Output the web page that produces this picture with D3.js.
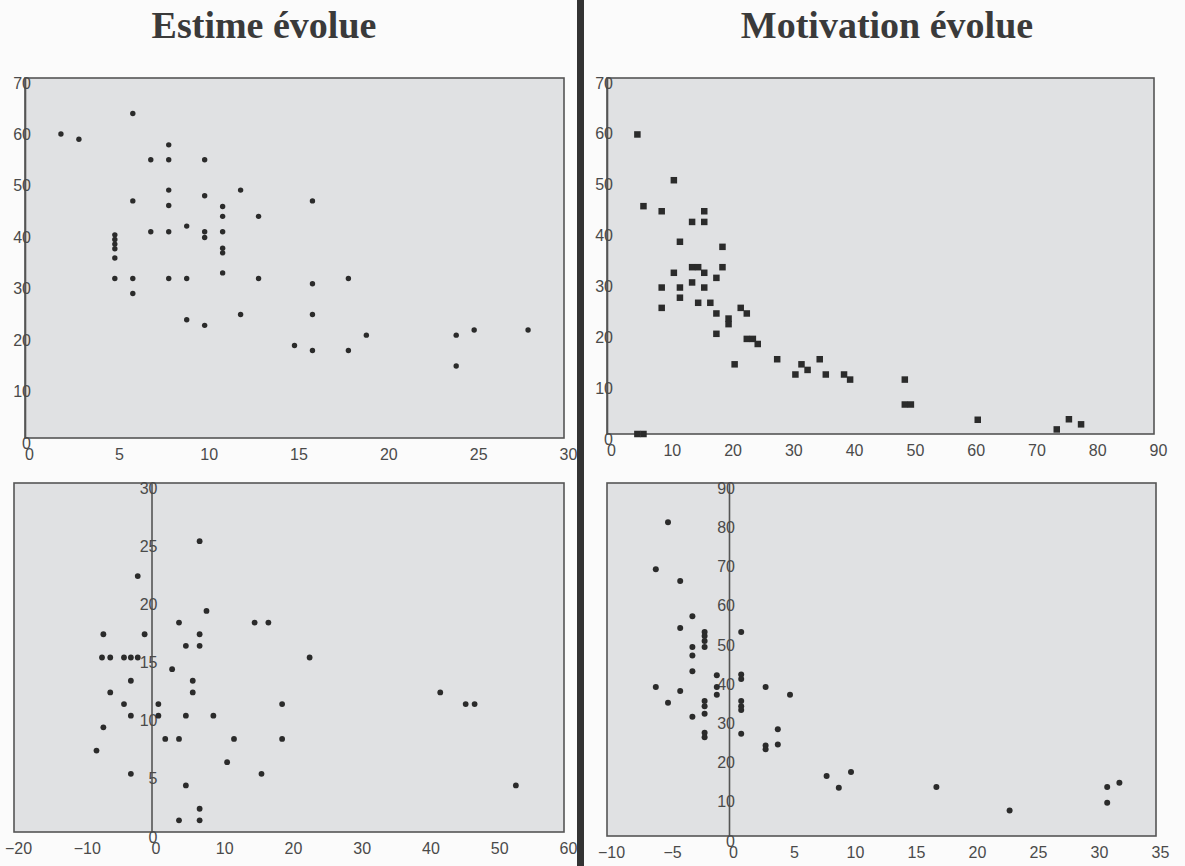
<!DOCTYPE html>
<html>
<head>
<meta charset="utf-8">
<script src="https://cdn.jsdelivr.net/npm/d3@7"></script>
<style>
    body { margin: 0; background: #fbfbfb; }
</style>
</head>
<body>
<div id="chart"></div>
<script>
// Titles
let titles = ['Estime évolue', 'Motivation évolue'];

// Estime - top scatter
let estimeTopX = [2, 3, 6, 7, 8, 8, 10, 8, 8, 10, 12, 6, 11, 11, 13, 7, 8, 9, 10, 10, 11, 11, 11,
    5, 5, 5, 5, 5, 5, 6, 8, 9, 13, 11, 6, 9, 10, 12, 15,
    16, 16, 18, 16, 19, 16, 18, 24, 25, 28, 24];
let estimeTopY = [59.1, 58.1, 63.1, 54.1, 54.1, 57.0, 54.1, 48.2, 45.2, 47.1, 48.2, 46.1, 45.0, 43.1, 43.1, 40.1, 40.1, 41.2, 40.1, 39.0, 40.1, 36.9, 36.0,
    39.5, 38.6, 37.7, 36.8, 35.0, 31.0, 31.0, 31.0, 31.0, 31.0, 32.1, 28.1, 23.0, 21.9, 24.0, 18.0,
    46.1, 30.0, 31.0, 24.0, 20.0, 17.0, 17.0, 20.0, 21.0, 21.0, 14.0];

// Motivation - top scatter
let motivTopX = [5, 6, 9, 11, 14, 16, 16, 12, 19, 11, 14, 15, 16, 18, 19, 9, 12, 14, 16, 12, 15, 17,
    9, 18, 20, 20, 18, 22, 23, 23, 24, 24.8, 21, 28, 31, 32, 33, 35, 36, 39, 40, 5, 6,
    49, 49, 50, 61, 74, 76, 78];
let motivTopY = [58.9, 44.8, 43.8, 49.9, 41.7, 43.8, 41.7, 37.8, 36.8, 31.7, 32.8, 32.8, 31.7, 30.7, 32.8, 28.8, 28.8, 29.8, 28.8, 26.8, 25.8, 25.8,
    24.8, 23.7, 22.7, 21.6, 19.7, 24.8, 23.7, 18.7, 18.7, 17.7, 13.7, 14.7, 11.7, 13.7, 12.6, 14.7, 11.7, 11.7, 10.7, 0, 0,
    10.7, 5.8, 5.8, 2.8, 0.9, 2.9, 1.9];

// Estime - bottom scatter (evolution)
let estimeBotX = [7, -2, 8, 4, 15, 17, -7, -1, 7, 5, 7, -7.2, -6, -4, -3, -2, 3, -3, 6, -6, 6, -4, 1, 19,
    -3, 1, 5, 9, -7, 2, 4, 12, 19, -8, 11, -3, 16, 5, 7, 4, 7, 23, 42, 45.7, 47, 53];
let estimeBotY = [25, 22, 19, 18, 18, 18, 17, 17, 17, 16, 16, 15, 15, 15, 15, 15, 14, 13, 13, 12, 12, 11, 11, 11,
    10, 10, 10, 10, 9, 8, 8, 8, 8, 7, 6, 5, 5, 4, 2, 1, 1, 15, 12, 11, 11, 4];

// Motivation - bottom scatter (evolution)
let motivBotX = [-5, -6, -4, -3, -4, -2, -2, -2, -2, -3, -3, 1, -3, -1, 1, 1, -6, -4, -1, -1, 3, 5,
    -5, -2, -2, -2, 1, 1, 1, -3, -2, -2, 1, 4, 3, 3, 4, 8, 9, 10, 17, 23, 31, 31, 32];
let motivBotY = [80, 68, 65, 56, 53, 52, 51, 49.7, 48.2, 48.2, 46, 52, 42, 41, 41.2, 40, 38, 37, 38, 36, 38, 36,
    34, 34.4, 33.1, 31.2, 34.4, 33.1, 32.1, 30.4, 26.3, 25.2, 26.1, 27.2, 23.1, 22.1, 23.3, 15.3, 12.3, 16.3, 12.5, 6.5, 12.5, 8.5, 13.6];

// Tick values
let estimeTopXTicks = [0, 5, 10, 15, 20, 25, 30];
let topYTicks = [0, 10, 20, 30, 40, 50, 60, 70];
let motivTopXTicks = [0, 10, 20, 30, 40, 50, 60, 70, 80, 90];
let estimeBotXTicks = [-20, -10, 0, 10, 20, 30, 40, 50, 60];
let estimeBotYTicks = [0, 5, 10, 15, 20, 25, 30];
let motivBotXTicks = [-10, -5, 0, 5, 10, 15, 20, 25, 30, 35];
let motivBotYTicks = [0, 10, 20, 30, 40, 50, 60, 70, 80, 90];

let width = 1185;
let height = 866;
let inkColor = '#2b2b2b';
let labelColor = '#4a4a4a';

let svg = d3.select('#chart')
    .append('svg')
    .attr('width', width)
    .attr('height', height);

svg.append('rect')
    .attr('width', width)
    .attr('height', height)
    .attr('fill', '#fbfbfb');

// Titles
svg.selectAll('.title')
    .data(titles)
    .enter()
    .append('text')
    .attr('class', 'title')
    .attr('x', (d, i) => i === 0 ? 264 : 887)
    .attr('y', 38)
    .attr('text-anchor', 'middle')
    .attr('font-family', '"Liberation Serif", "Times New Roman", serif')
    .attr('font-weight', 'bold')
    .attr('font-size', 38)
    .attr('fill', '#3a3a3a')
    .text(d => d);

// Vertical divider
svg.append('rect')
    .attr('x', 577)
    .attr('y', 0)
    .attr('width', 7)
    .attr('height', height)
    .attr('fill', '#333');

/**
 * Draw one scatter panel
 */
function drawPanel(p)
{
    let x = d3.scaleLinear().domain(p.xDomain).range([p.left, p.right]);
    let y = d3.scaleLinear().domain(p.yDomain).range([p.bottom, p.top]);

    // Plot area
    svg.append('rect')
        .attr('x', p.left)
        .attr('y', p.top)
        .attr('width', p.right - p.left)
        .attr('height', p.bottom - p.top)
        .attr('fill', '#e0e1e3')
        .attr('stroke', '#555')
        .attr('stroke-width', 1.6);

    // X axis (labels only, the box draws the line)
    let gx = svg.append('g')
        .attr('transform', 'translate(0,' + p.bottom + ')')
        .call(d3.axisBottom(x).tickValues(p.xTicks).tickSize(0).tickSizeOuter(0).tickPadding(11));
    gx.select('.domain').remove();
    gx.selectAll('text')
        .attr('dx', 4)
        .attr('font-family', '"Liberation Sans", Arial, sans-serif')
        .attr('font-size', 16)
        .attr('fill', labelColor);

    // Y axis, crossing at the zero of x
    let gy = svg.append('g')
        .attr('transform', 'translate(' + x(p.yAxisAt) + ',0)')
        .call(d3.axisLeft(y).tickValues(p.yTicks).tickSize(0).tickSizeOuter(0).tickPadding(-6));
    gy.select('.domain')
        .attr('stroke', '#555')
        .attr('stroke-width', 1.6);
    gy.selectAll('text')
        .attr('y', 5)
        .attr('font-family', '"Liberation Sans", Arial, sans-serif')
        .attr('font-size', 16)
        .attr('fill', labelColor);

    let points = p.xs.map((v, i) => ({ x: v, y: p.ys[i] }));

    if (p.shape === 'square') {
        svg.append('g').selectAll('rect')
            .data(points)
            .enter()
            .append('rect')
            .attr('x', d => x(d.x) - p.size / 2)
            .attr('y', d => y(d.y) - p.size / 2)
            .attr('width', p.size)
            .attr('height', p.size)
            .attr('fill', inkColor);
    } else {
        svg.append('g').selectAll('circle')
            .data(points)
            .enter()
            .append('circle')
            .attr('cx', d => x(d.x))
            .attr('cy', d => y(d.y))
            .attr('r', p.size)
            .attr('fill', inkColor);
    }
}

drawPanel({
    left: 25, right: 564, top: 78, bottom: 438,
    xDomain: [0, 30], yDomain: [0, 70], yAxisAt: 0,
    xTicks: estimeTopXTicks, yTicks: topYTicks,
    xs: estimeTopX, ys: estimeTopY, shape: 'circle', size: 2.7
});

drawPanel({
    left: 607, right: 1154, top: 78, bottom: 434,
    xDomain: [0, 90], yDomain: [0, 70], yAxisAt: 0,
    xTicks: motivTopXTicks, yTicks: topYTicks,
    xs: motivTopX, ys: motivTopY, shape: 'square', size: 6.5
});

drawPanel({
    left: 14, right: 564, top: 483, bottom: 832,
    xDomain: [-20, 60], yDomain: [0, 30], yAxisAt: 0,
    xTicks: estimeBotXTicks, yTicks: estimeBotYTicks,
    xs: estimeBotX, ys: estimeBotY, shape: 'circle', size: 2.9
});

drawPanel({
    left: 607, right: 1156, top: 483, bottom: 836,
    xDomain: [-10, 35], yDomain: [0, 90], yAxisAt: 0,
    xTicks: motivBotXTicks, yTicks: motivBotYTicks,
    xs: motivBotX, ys: motivBotY, shape: 'circle', size: 3
});
</script>
</body>
</html>
